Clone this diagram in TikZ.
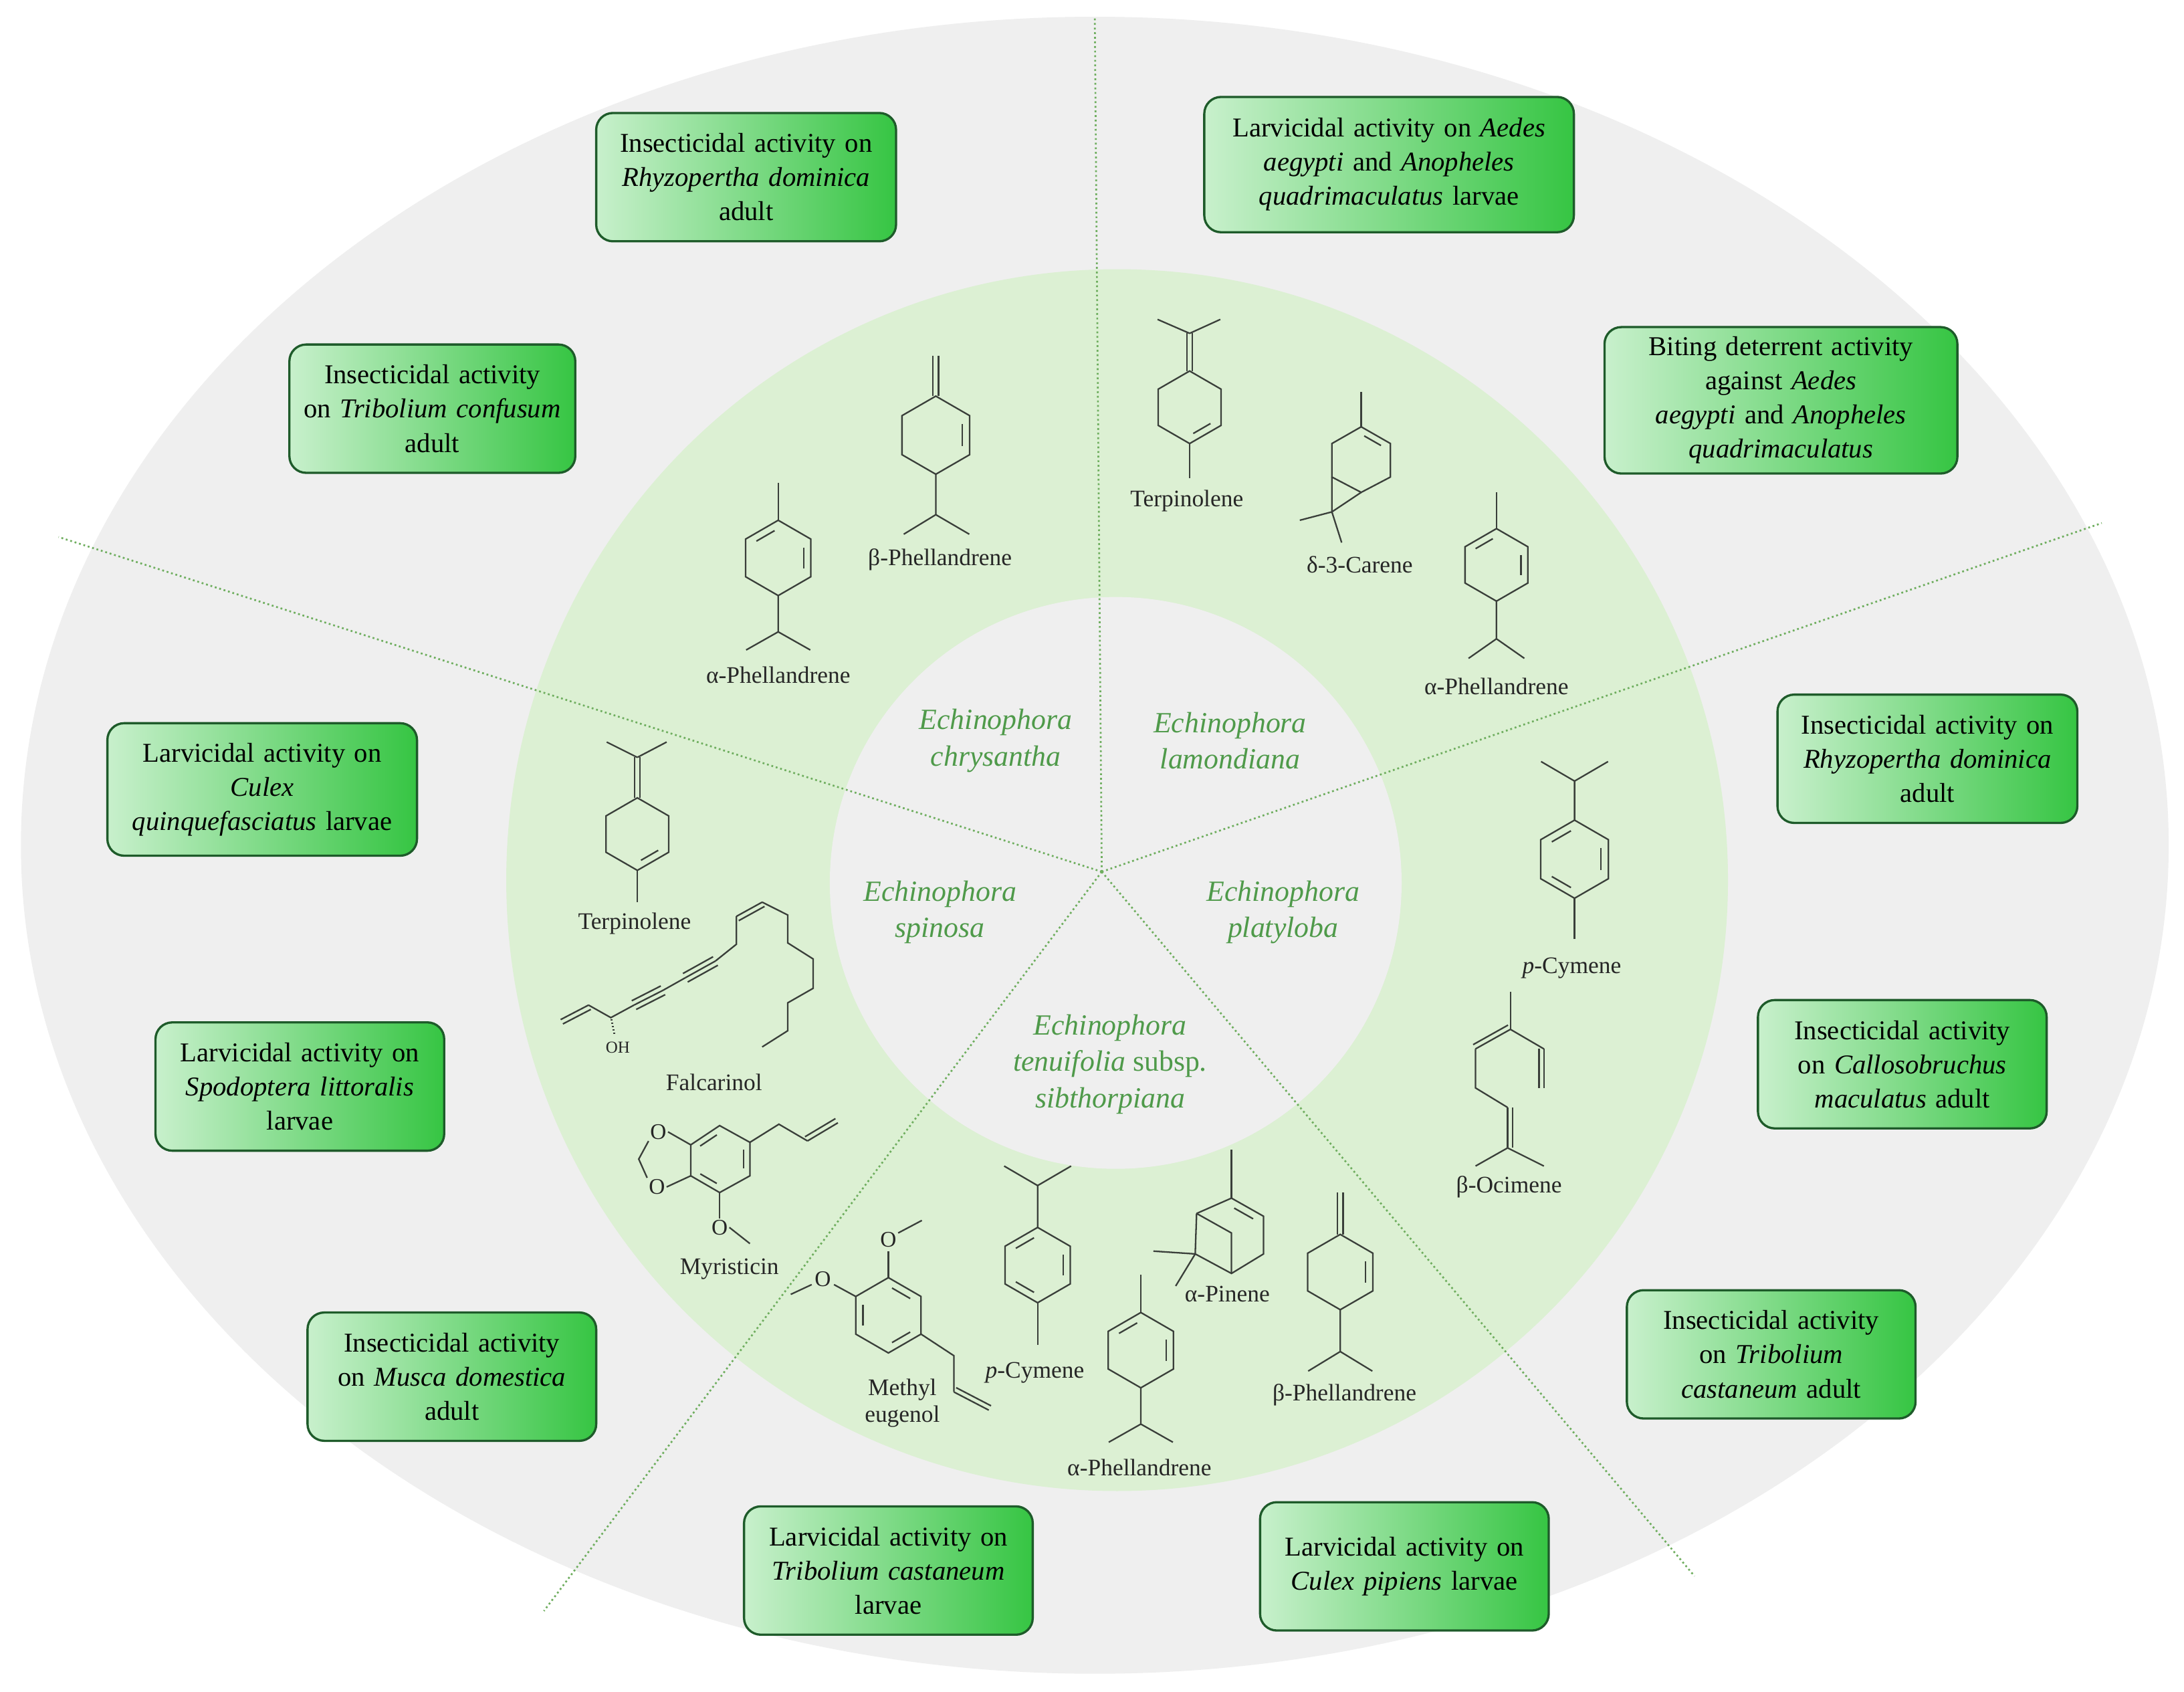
\documentclass[tikz,border=0pt]{standalone}
\usepackage{fontspec}
\setmainfont{Liberation Serif}
\usetikzlibrary{calc}
\definecolor{bgrey}{HTML}{EFEFEF}
\definecolor{ringg}{HTML}{DCF0D3}
\definecolor{boxline}{HTML}{1E5B2A}
\definecolor{boxlight}{HTML}{C8F0CC}
\definecolor{boxdark}{HTML}{36C543}
\definecolor{spg}{HTML}{4F9A4A}
\definecolor{dotg}{HTML}{6FAE5F}
\definecolor{molc}{HTML}{3A3F3A}
\tikzset{
 mol/.style={draw=molc,line width=1.1pt},
 box/.style={draw=boxline,line width=1.6pt,rounded corners=12pt,left color=boxlight,right color=boxdark,
   align=center,inner sep=4pt,font=\fontsize{19.5}{24.5}\selectfont},
 sp/.style={font=\fontsize{21}{26}\selectfont\itshape,text=spg,align=center},
 ml/.style={font=\fontsize{17}{19}\selectfont,text=black!85,align=center,inner sep=1pt},
 sector/.style={draw=dotg,dotted,line width=1.3pt}
}
\newcommand\hexring[2]{%
 \draw[mol] (0,-#1) -- ({0.866*#1},{-0.5*#1}) -- ({0.866*#1},{0.5*#1}) -- (0,#1) -- ({-0.866*#1},{0.5*#1}) -- ({-0.866*#1},{-0.5*#1}) -- cycle;
 \foreach \a in {#2} \draw[mol,shorten <=3pt,shorten >=3pt] ({0.78*#1*cos(\a)},{0.78*#1*sin(\a)}) -- ({0.78*#1*cos(\a+60)},{0.78*#1*sin(\a+60)});}
\newcommand\inb[3]{\draw[mol,shorten <=2.5pt,shorten >=2.5pt] ($(#1)!0.78!(#2)$) -- ($(#1)!0.78!(#3)$);}
\newcommand\dbo[2]{\draw[mol] (#1) -- (#2); \draw[mol] ($(#1)!3.5pt!90:(#2)$) -- ($(#2)!3.5pt!-90:(#1)$);}
\newcommand\tbo[2]{\draw[mol] (#1) -- (#2); \draw[mol] ($(#1)!3.5pt!90:(#2)$) -- ($(#2)!3.5pt!-90:(#1)$); \draw[mol] ($(#1)!3.5pt!-90:(#2)$) -- ($(#2)!3.5pt!90:(#1)$);}
\begin{document}
\begin{tikzpicture}[x=1pt,y=-1pt]
\useasboundingbox (0,0) rectangle (1566,1213);
\fill[white] (0,0) rectangle (1566,1213);
\fill[bgrey] (785,606) ellipse [x radius=770, y radius=594];
\fill[ringg] (801,631) circle [radius=438];
\fill[bgrey] (800,633) circle [radius=205];
\coordinate (c) at (790,625);
\coordinate (e1) at (785,12); \coordinate (e2) at (1507,375); \coordinate (e3) at (1215,1130);
\coordinate (e4) at (390,1155); \coordinate (e5) at (42,385);
\foreach \e in {e1,e2,e3,e4,e5} \draw[sector] (c) -- (\e);

% boxes
\node[box,minimum width=215,minimum height=92,text width=207] (b1) at (535,127) {Insecticidal activity on\\\textit{Rhyzopertha dominica}\\adult};
\node[box,minimum width=205,minimum height=92,text width=197] (b2) at (310,293) {Insecticidal activity\\on \textit{Tribolium confusum}\\adult};
\node[box,minimum width=265,minimum height=97,text width=257] (b3) at (996,118) {Larvicidal activity on \textit{Aedes}\\\textit{aegypti} and \textit{Anopheles}\\\textit{quadrimaculatus} larvae};
\node[box,minimum width=253,minimum height=105,text width=245] (b4) at (1277,287) {Biting deterrent activity\\against \textit{Aedes}\\\textit{aegypti} and \textit{Anopheles}\\\textit{quadrimaculatus}};
\node[box,minimum width=222,minimum height=95,text width=214] (b5) at (188,566) {Larvicidal activity on\\\textit{Culex}\\\textit{quinquefasciatus} larvae};
\node[box,minimum width=215,minimum height=92,text width=207] (b6) at (1382,544) {Insecticidal activity on\\\textit{Rhyzopertha dominica}\\adult};
\node[box,minimum width=207,minimum height=92,text width=199] (b7) at (215,779) {Larvicidal activity on\\\textit{Spodoptera littoralis}\\larvae};
\node[box,minimum width=207,minimum height=92,text width=199] (b8) at (1364,763) {Insecticidal activity\\on \textit{Callosobruchus}\\\textit{maculatus} adult};
\node[box,minimum width=207,minimum height=92,text width=199] (b9) at (324,987) {Insecticidal activity\\on \textit{Musca domestica}\\adult};
\node[box,minimum width=207,minimum height=92,text width=199] (b10) at (1270,971) {Insecticidal activity\\on \textit{Tribolium}\\\textit{castaneum} adult};
\node[box,minimum width=207,minimum height=92,text width=199] (b11) at (637,1126) {Larvicidal activity on\\\textit{Tribolium castaneum}\\larvae};
\node[box,minimum width=207,minimum height=92,text width=199] (b12) at (1007,1123) {Larvicidal activity on\\\textit{Culex pipiens} larvae};

% species
\node[sp] (s1) at (714,531) {Echinophora\\chrysantha};
\node[sp] (s2) at (882,531) {Echinophora\\lamondiana};
\node[sp] (s3) at (674,654) {Echinophora\\spinosa};
\node[sp] (s4) at (920,654) {Echinophora\\platyloba};
\node[sp] (s5) at (796,763) {Echinophora\\tenuifolia \textup{subsp.}\\sibthorpiana};

% alpha-phellandrene (chrysantha)
\begin{scope}[shift={(558,400)}]
\hexring{27}{210,-30}
\draw[mol] (0,-27)--(0,-54); \draw[mol] (0,27)--(0,53)--(-23,66); \draw[mol] (0,53)--(23,66);
\end{scope}
\node[ml] (m1) at (558,484) {α-Phellandrene};
% beta-phellandrene (chrysantha)
\begin{scope}[shift={(671,312)}]
\hexring{28}{-30}
\draw[mol] (-2,-28)--(-2,-57); \draw[mol] (2,-28)--(2,-57);
\draw[mol] (0,28)--(0,57)--(-23,71); \draw[mol] (0,57)--(24,71);
\end{scope}
\node[ml] (m2) at (674,401) {β-Phellandrene};
% terpinolene (lamondiana)
\begin{scope}[shift={(853,292)}]
\hexring{26}{30}
\draw[mol] (-2,-26)--(-2,-53); \draw[mol] (2,-26)--(2,-53);
\draw[mol] (0,-53)--(-23,-63); \draw[mol] (0,-53)--(22,-63);
\draw[mol] (0,26)--(0,51);
\end{scope}
\node[ml] (m3) at (851,359) {Terpinolene};
% delta-3-carene
\coordinate (ca0) at (976,330);
\coordinate (ca1) at (976,306); \coordinate (ca2) at (997,318); \coordinate (ca3) at (997,342);
\coordinate (ca4) at (976,353); \coordinate (ca5) at (955,342); \coordinate (ca6) at (955,318);
\coordinate (ca7) at (955,367);
\draw[mol] (ca1)--(ca2)--(ca3)--(ca4)--(ca5)--(ca6)--cycle;
\inb{ca0}{ca1}{ca2}
\draw[mol] (ca1)--(976,281);
\draw[mol] (ca5)--(ca7)--(ca4);
\draw[mol] (ca7)--(932,373); \draw[mol] (ca7)--(962,389);
\node[ml] (m4) at (975,405) {δ-3-Carene};
% alpha-phellandrene (lamondiana)
\begin{scope}[shift={(1073,405)}]
\hexring{26}{210,-30}
\draw[mol] (0,-26)--(0,-52); \draw[mol] (0,26)--(0,53)--(-20,67); \draw[mol] (0,53)--(20,67);
\end{scope}
\node[ml] (m5) at (1073,492) {α-Phellandrene};
% p-cymene (platyloba)
\begin{scope}[shift={(1129,616)}]
\hexring{28}{210,-30,90}
\draw[mol] (0,-28)--(0,-56)--(-24,-70); \draw[mol] (0,-56)--(24,-70);
\draw[mol] (0,28)--(0,57);
\end{scope}
\node[ml] (m6) at (1127,694) {\textit{p}-Cymene};
% beta-ocimene
\coordinate (o1) at (1083,711); \coordinate (o2) at (1083,738); \coordinate (o3) at (1058,752);
\coordinate (o4) at (1058,780); \coordinate (o5) at (1081,794); \coordinate (o6) at (1081,823);
\coordinate (o7) at (1058,836); \coordinate (o8) at (1107,836); \coordinate (o9) at (1107,752);
\coordinate (o10) at (1107,780);
\draw[mol] (o1)--(o2); \dbo{o3}{o2} \draw[mol] (o3)--(o4)--(o5); \dbo{o5}{o6}
\draw[mol] (o6)--(o7); \draw[mol] (o6)--(o8); \draw[mol] (o2)--(o9); \dbo{o10}{o9}
\node[ml] (m7) at (1082,851) {β-Ocimene};
% beta-phellandrene (tenuifolia)
\begin{scope}[shift={(961,912)}]
\hexring{27}{-30}
\draw[mol] (-2,-27)--(-2,-57); \draw[mol] (2,-27)--(2,-57);
\draw[mol] (0,27)--(0,57)--(-23,71); \draw[mol] (0,57)--(23,71);
\end{scope}
\node[ml] (m8) at (964,1000) {β-Phellandrene};
% alpha-pinene
\coordinate (p0) at (882,886);
\coordinate (p1) at (883,859); \coordinate (p2) at (906,872); \coordinate (p3) at (906,899);
\coordinate (p4) at (883,913); \coordinate (p5) at (857,899); \coordinate (p6) at (858,870);
\coordinate (p7) at (883,884);
\draw[mol] (p6)--(p1)--(p2)--(p3)--(p4)--(p5)--(p6);
\inb{p0}{p1}{p2}
\draw[mol] (p6)--(p7)--(p4);
\draw[mol] (p1)--(883,824);
\draw[mol] (p5)--(827,897); \draw[mol] (p5)--(843,922);
\node[ml] (m9) at (880,928) {α-Pinene};
% alpha-phellandrene (tenuifolia)
\begin{scope}[shift={(818,968)}]
\hexring{27}{210,-30}
\draw[mol] (0,-27)--(0,-54); \draw[mol] (0,27)--(0,53)--(-23,66); \draw[mol] (0,53)--(23,66);
\end{scope}
\node[ml] (m10) at (817,1052) {α-Phellandrene};
% p-cymene (tenuifolia)
\begin{scope}[shift={(744,907)}]
\hexring{27}{210,-30,90}
\draw[mol] (0,-27)--(0,-57)--(-24,-71); \draw[mol] (0,-57)--(24,-71);
\draw[mol] (0,27)--(0,57);
\end{scope}
\node[ml] (m11) at (742,984) {\textit{p}-Cymene};
% methyl eugenol
\begin{scope}[shift={(637,943)}]
\hexring{27}{-90,30,150}
\draw[mol] (0,-27)--(0,-46);
\node[ml,font=\fontsize{16}{16}\selectfont] (oe1) at (0,-54) {O};
\draw[mol] (7,-59)--(24,-68);
\draw[mol] (-23.4,-13.5)--(-39,-22);
\node[ml,font=\fontsize{16}{16}\selectfont] (oe2) at (-47,-26) {O};
\draw[mol] (-55,-22)--(-70,-15);
\draw[mol] (23.4,13.5)--(47,29)--(47,55);
\end{scope}
\coordinate (me1) at (684,998); \coordinate (me2) at (709,1011);
\dbo{me1}{me2}
\node[ml] (m12) at (647,1006) {Methyl\\eugenol};
% terpinolene (spinosa)
\begin{scope}[shift={(457,598)}]
\hexring{26}{30}
\draw[mol] (-2,-26)--(-2,-55); \draw[mol] (2,-26)--(2,-55);
\draw[mol] (0,-55)--(-22,-66); \draw[mol] (0,-55)--(21,-66);
\draw[mol] (0,26)--(0,49);
\end{scope}
\node[ml] (m13) at (455,662) {Terpinolene};
% falcarinol
\coordinate (f1) at (402,731); \coordinate (f2) at (422,720.6); \coordinate (f3) at (438,729.6);
\coordinate (f4) at (454.6,720.6); \coordinate (f5) at (475.4,710); \coordinate (f6) at (491.4,701);
\coordinate (f7) at (513,689); \coordinate (f8) at (528,677); \coordinate (f9) at (528,657);
\coordinate (f10) at (546.5,646.8); \coordinate (f11) at (564.8,656); \coordinate (f12) at (564.8,676);
\coordinate (f13) at (583,687.5); \coordinate (f14) at (583,708.6); \coordinate (f15) at (564.8,719);
\coordinate (f16) at (564.8,739); \coordinate (f17) at (546.5,750.6);
\dbo{f2}{f1}
\draw[mol] (f2)--(f3)--(f4); \tbo{f4}{f5} \draw[mol] (f5)--(f6); \tbo{f6}{f7}
\draw[mol] (f7)--(f8)--(f9); \dbo{f10}{f9}
\draw[mol] (f10)--(f11)--(f12)--(f13)--(f14)--(f15)--(f16)--(f17);
\foreach \t in {0.15,0.35,0.55,0.75,0.95} \draw[molc,line width=0.9pt] ($(f3)+(-{0.6+2.5*\t},{12*\t})$)--($(f3)+({0.6+2.5*\t},{12*\t})$);
\node[ml,font=\fontsize{12}{12}\selectfont] (oh) at (443,751) {OH};
\node[ml] (m14) at (512,776) {Falcarinol};
% myristicin
\coordinate (y0) at (516.5,831);
\coordinate (y1) at (516,807); \coordinate (y2) at (537.7,819); \coordinate (y3) at (537.7,843);
\coordinate (y4) at (516,855); \coordinate (y5) at (495.3,843); \coordinate (y6) at (495.3,820.8);
\draw[mol] (y1)--(y2)--(y3)--(y4)--(y5)--(y6)--cycle;
\inb{y0}{y6}{y1} \inb{y0}{y2}{y3} \inb{y0}{y4}{y5}
\node[ml,font=\fontsize{16}{16}\selectfont] (yo1) at (472,811.5) {O};
\node[ml,font=\fontsize{16}{16}\selectfont] (yo2) at (471,851) {O};
\draw[mol] (y6)--(yo1.east); \draw[mol] (y5)--(yo2.east);
\draw[mol] (yo1.south west)--(458,831)--(yo2.north west);
\node[ml,font=\fontsize{16}{16}\selectfont] (yo3) at (516,880) {O};
\draw[mol] (y4)--(yo3.north); \draw[mol] (yo3.east)--(537.7,891.6);
\coordinate (ya1) at (558.5,806); \coordinate (ya2) at (579,818); \coordinate (ya3) at (600.8,805);
\draw[mol] (y2)--(ya1)--(ya2); \dbo{ya2}{ya3}
\node[ml] (m15) at (523,910) {Myristicin};
\end{tikzpicture}
\end{document}
